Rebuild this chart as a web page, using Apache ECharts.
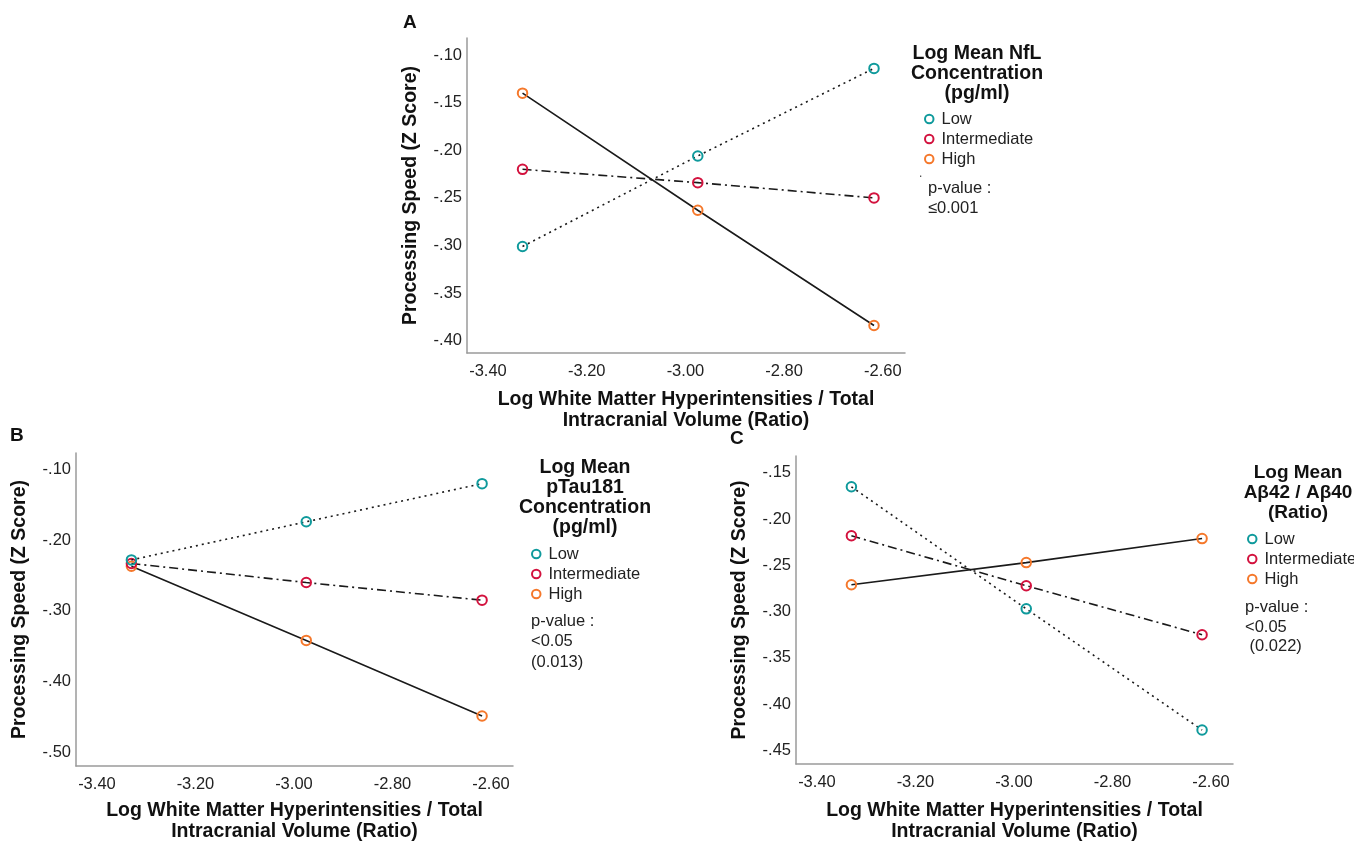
<!DOCTYPE html>
<html>
<head>
<meta charset="utf-8">
<script src="https://cdn.jsdelivr.net/npm/echarts@6/dist/echarts.min.js"></script>
<style>
html,body{margin:0;padding:0;background:#fff;}
#chart{width:1354px;height:843px;}
</style>
</head>
<body>
<div id="chart"></div>
<script>
// ---- data ----
var groups = ['Low', 'Intermediate', 'High'];
var xValues = [-3.330, -2.975, -2.618];

var nflLow = [-0.301, -0.206, -0.114];
var nflInter = [-0.220, -0.234, -0.250];
var nflHigh = [-0.140, -0.263, -0.384];

var tauLow = [-0.228, -0.174, -0.120];
var tauInter = [-0.233, -0.260, -0.285];
var tauHigh = [-0.237, -0.342, -0.449];

var abLow = [-0.165, -0.297, -0.428];
var abInter = [-0.218, -0.272, -0.325];
var abHigh = [-0.271, -0.247, -0.221];

var xTicks = [-3.40, -3.20, -3.00, -2.80, -2.60];
var yTicksA = [-0.40, -0.35, -0.30, -0.25, -0.20, -0.15, -0.10];
var yTicksB = [-0.50, -0.40, -0.30, -0.20, -0.10];
var yTicksC = [-0.45, -0.40, -0.35, -0.30, -0.25, -0.20, -0.15];

var xTitle = 'Log White Matter Hyperintensities / Total\nIntracranial Volume (Ratio)';
var yTitle = 'Processing Speed (Z Score)';
var legendTitleA = 'Log Mean NfL\nConcentration\n(pg/ml)';
var legendTitleB = 'Log Mean\npTau181\nConcentration\n(pg/ml)';
var legendTitleC = 'Log Mean\nA\u03b242 / A\u03b240\n(Ratio)';
var pTextA = 'p-value :\n\u22640.001';
var pTextB = 'p-value :\n<0.05\n(0.013)';
var pTextC = 'p-value :\n<0.05\n (0.022)';

// ---- styles ----
var FONT = 'Liberation Sans, Arial, sans-serif';
var markerColors = {Low: '#0f9a9c', Intermediate: '#d3123e', High: '#f5782b'};
var lineTypes = {Low: [2, 4], Intermediate: [9, 4, 2, 4], High: 'solid'};

function pair(xs, ys) { return xs.map(function (x, i) { return [x, ys[i]]; }); }
function yFmt(v) {
  var s = Math.abs(v).toFixed(2).replace(/^0/, '');
  return (v < 0 ? '-' : '') + s;
}

var panels = [
  {grid: {left: 467, top: 38, width: 438, height: 315}, yMin: -0.4129, yMax: -0.0821, yTicks: yTicksA,
   series: [nflLow, nflInter, nflHigh], yGap: 46, xGap: 36},
  {grid: {left: 76, top: 453, width: 437, height: 314}, yMin: -0.5198, yMax: -0.0766, yTicks: yTicksB,
   series: [tauLow, tauInter, tauHigh], yGap: 46, xGap: 34},
  {grid: {left: 796, top: 456, width: 437, height: 315}, yMin: -0.4648, yMax: -0.1317, yTicks: yTicksC,
   series: [abLow, abInter, abHigh], yGap: 46, xGap: 36}
];

var option = {
  backgroundColor: '#fff',
  animation: false,
  textStyle: {fontFamily: FONT},
  grid: [], xAxis: [], yAxis: [], series: [], legend: [], title: [], graphic: []
};

panels.forEach(function (p, i) {
  option.grid.push(Object.assign({containLabel: false}, p.grid));
  option.xAxis.push({
    type: 'value', gridIndex: i, min: -3.4425, max: -2.5552,
    name: xTitle, nameLocation: 'middle', nameGap: p.xGap,
    nameTextStyle: {fontFamily: FONT, fontWeight: 'bold', fontSize: 19.5, lineHeight: 21, color: '#111', verticalAlign: 'top'},
    axisLine: {lineStyle: {color: '#9a9a9a', width: 1.5}},
    axisTick: {show: false}, splitLine: {show: false},
    axisLabel: {customValues: xTicks, formatter: function (v) { return v.toFixed(2); },
      fontFamily: FONT, fontSize: 16.5, color: '#222', margin: 10}
  });
  option.yAxis.push({
    type: 'value', gridIndex: i, min: p.yMin, max: p.yMax,
    name: yTitle, nameLocation: 'middle', nameGap: p.yGap,
    nameTextStyle: {fontFamily: FONT, fontWeight: 'bold', fontSize: 19.5, color: '#111'},
    axisLine: {show: true, lineStyle: {color: '#9a9a9a', width: 1.5}},
    axisTick: {show: false}, splitLine: {show: false},
    axisLabel: {customValues: p.yTicks, formatter: yFmt, fontFamily: FONT, fontSize: 16.5, color: '#222', margin: 5}
  });
  groups.forEach(function (g, k) {
    option.series.push({
      type: 'line', name: g, xAxisIndex: i, yAxisIndex: i,
      data: pair(xValues, p.series[k]),
      symbol: 'circle', symbolSize: 9.5,
      itemStyle: {color: 'rgba(255,255,255,0)', borderColor: markerColors[g], borderWidth: 2},
      lineStyle: {color: '#1a1a1a', width: 1.6, type: lineTypes[g]},
      emphasis: {disabled: true}, z: 3 - k
    });
  });
});

// legends (items)
var legendPos = [
  {left: 924, top: 109},
  {left: 531, top: 544},
  {left: 1247, top: 529}
];
legendPos.forEach(function (lp) {
  option.legend.push({
    orient: 'vertical', left: lp.left, top: lp.top, icon: 'circle',
    itemWidth: 8.5, itemHeight: 8.5, itemGap: 0, selectedMode: false, padding: 0,
    textStyle: {fontFamily: FONT, fontSize: 16.5, lineHeight: 20, color: '#222', padding: [0, 0, 0, 3]},
    data: groups.map(function (g) {
      return {name: g, itemStyle: {color: 'rgba(255,255,255,0)', borderColor: markerColors[g], borderWidth: 2}};
    })
  });
});

// panel letters and legend titles
function titleAt(text, x, y, size, align, lh) {
  return {text: text, left: x, top: y, textAlign: align || 'left', padding: 0,
    textStyle: {fontFamily: FONT, fontWeight: 'bold', fontSize: size, color: '#111', lineHeight: lh || size + 3}};
}
option.title.push(titleAt('A', 403, 12, 19));
option.title.push(titleAt('B', 10, 425, 19));
option.title.push(titleAt('C', 730, 428, 19));
option.title.push(titleAt(legendTitleA, 977, 44, 19.5, 'center', 20));
option.title.push(titleAt(legendTitleB, 585, 458, 19.5, 'center', 20));
option.title.push(titleAt(legendTitleC, 1298, 463, 19, 'center', 20));

// p-value notes
function note(text, x, y, lh) {
  return {type: 'text', left: x, top: y,
    style: {text: text, font: '16.5px ' + FONT, fill: '#222', lineHeight: lh || 20.5}};
}
option.graphic.push(note(pTextA, 928, 179, 19.5));
option.graphic.push({type: 'text', left: 919, top: 168, style: {text: '.', font: '12px ' + FONT, fill: '#444'}});
option.graphic.push(note(pTextB, 531, 611));
option.graphic.push(note(pTextC, 1245, 598, 19.5));

var chart = echarts.init(document.getElementById('chart'), null, {renderer: 'canvas'});
chart.setOption(option);
</script>
</body>
</html>
